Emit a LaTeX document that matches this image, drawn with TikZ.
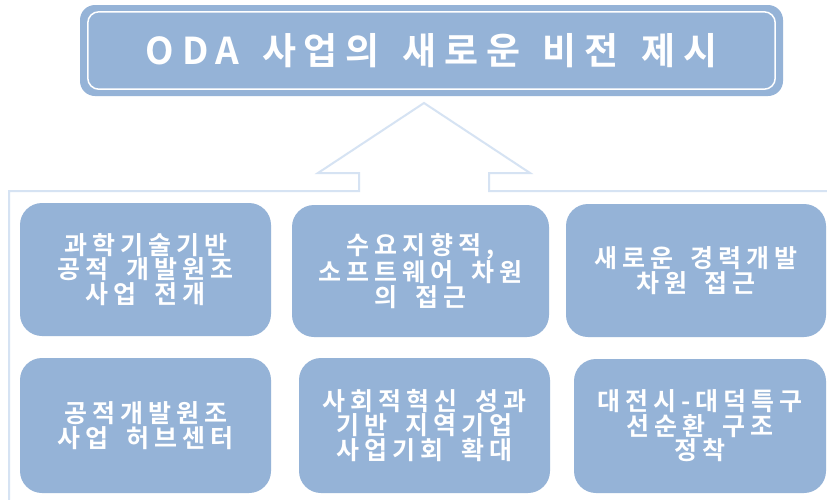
\documentclass[tikz,border=0pt]{standalone}
\usepackage{fontspec}
\setmainfont{Noto Sans CJK KR}
\newfontfamily\titlefont[LetterSpace=21,WordSpace=1.4]{Noto Sans CJK KR Bold}
\newfontfamily\boxfontA[LetterSpace=20,WordSpace=1.6]{Noto Sans CJK KR Bold}
\definecolor{boxblue}{HTML}{95B3D7}
\definecolor{outl}{HTML}{D6E3F3}
\begin{document}
\begin{tikzpicture}[x=1pt,y=-1pt,
  card/.style={fill=boxblue, rounded corners=22pt, text=white, align=center,
    inner sep=0pt, font=\boxfontA\fontsize{25}{24.5}\selectfont},
  titlebox/.style={fill=boxblue, rounded corners=15pt, text=white, align=center,
    inner sep=0pt, minimum width=703pt, minimum height=91pt,
    font=\titlefont\fontsize{37}{40}\selectfont},
  outline/.style={draw=outl, line width=2pt, line join=miter}]
\useasboundingbox (0,0) rectangle (827,499);
\fill[white] (0,0) rectangle (827,499);
% big arrow outline
\draw[outline] (9,505) -- (9,191) -- (359,191) -- (359,173) -- (318,173) -- (424,103)
  -- (530,173) -- (489,173) -- (489,191) -- (835,191);
% title
\node[titlebox] (title) at (431.5,50.5) {ODA 사업의 새로운 비전 제시};
\draw[white, line width=1.5pt, rounded corners=11pt]
  ([shift={(8,7)}]title.north west) rectangle ([shift={(-8,-7)}]title.south east);
% cards
\node[card, minimum width=251pt, minimum height=133pt] (b1) at (145.5,269.5)
  {과학기술기반\\공적 개발원조\\사업 전개};
\node[card, minimum width=257pt, minimum height=132pt] (b2) at (420.5,271)
  {수요지향적,\\소프트웨어 차원\\의 접근};
\node[card, minimum width=260pt, minimum height=133pt] (b3) at (696,270.5)
  {새로운 경력개발\\차원 접근};
\node[card, minimum width=251pt, minimum height=135pt] (b4) at (145.5,425.5)
  {공적개발원조\\사업 허브센터};
\node[card, minimum width=251pt, minimum height=135pt] (b5) at (424.5,425.5)
  {사회적혁신 성과\\기반 지역기업\\사업기회 확대};
\node[card, minimum width=252pt, minimum height=134pt] (b6) at (700,426)
  {대전시-대덕특구\\선순환 구조\\정착};
\end{tikzpicture}
\end{document}
